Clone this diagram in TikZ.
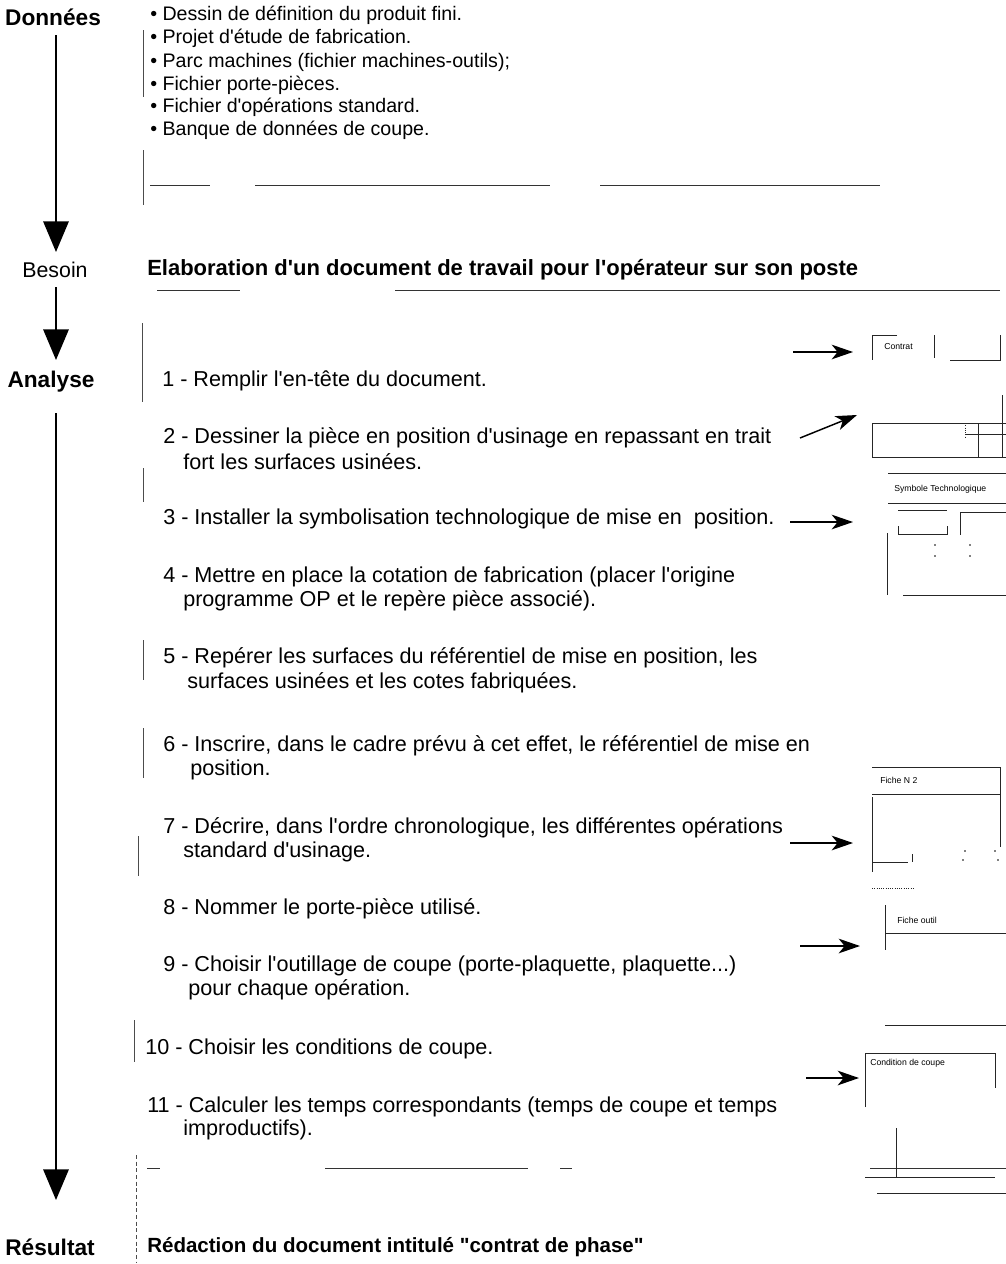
\documentclass[tikz,border=0pt]{standalone}
\usepackage{fontspec}
\setmainfont{Liberation Sans}[Ligatures=TeXOff]
\usetikzlibrary{arrows.meta}
\begin{document}
\begin{tikzpicture}[x=0.75pt,y=-0.75pt,
  txt/.style={anchor=west,inner sep=0pt,font=\fontsize{14.7}{17}\selectfont},
  stp/.style={anchor=west,inner sep=0pt,font=\fontsize{16.2}{19}\selectfont},
  hd/.style={anchor=west,inner sep=0pt,font=\fontsize{16.5}{19}\selectfont\bfseries},
  lbl/.style={inner sep=0pt,font=\fontsize{17}{19}\selectfont\bfseries},
  lblr/.style={inner sep=0pt,font=\fontsize{16}{19}\selectfont},
  mini/.style={anchor=west,inner sep=0pt,font=\fontsize{6.5}{8}\selectfont},
  bigarrow/.style={line width=1.6pt,-{Triangle[length=23pt,width=19pt]}},
  sidearrow/.style={line width=1.1pt,-{Stealth[length=16pt,width=11pt,inset=4.5pt]}},
  sep/.style={line width=0.5pt,black!80},
  bar/.style={line width=0.5pt,black!70},
  form/.style={line width=0.7pt,black!85}]
\useasboundingbox (0,0) rectangle (1006,1264);
\fill[white] (0,0) rectangle (1006,1264);

% ---------- left column ----------
\node[lbl]  (donnees)  at (53,17)   {Données};
\node[lblr] (besoin)   at (55,270)  {Besoin};
\node[lbl]  (analyse)  at (51,382)  {Analyse};
\node[lbl]  (resultat) at (50,1247) {Résultat};
\coordinate (a1s) at (56,35);   \coordinate (a1e) at (56,252);
\coordinate (a2s) at (56,287);  \coordinate (a2e) at (56,360);
\coordinate (a3s) at (56,413);  \coordinate (a3e) at (56,1200);
\draw[bigarrow] (a1s) -- (a1e);
\draw[bigarrow] (a2s) -- (a2e);
\draw[bigarrow] (a3s) -- (a3e);

% ---------- data list ----------
\node[txt] (d1) at (150,15)  {• Dessin de définition du produit fini.};
\node[txt] (d2) at (150,38)  {• Projet d'étude de fabrication.};
\node[txt] (d3) at (150,62)  {• Parc machines (fichier machines-outils);};
\node[txt] (d4) at (150,85)  {• Fichier porte-pièces.};
\node[txt] (d5) at (150,107) {• Fichier d'opérations standard.};
\node[txt] (d6) at (150,130) {• Banque de données de coupe.};

% ---------- headings ----------
\node[hd] (need) at (147,270)  {Elaboration d'un document de travail pour l'opérateur sur son poste};
\node[hd,font=\fontsize{15.4}{19}\selectfont\bfseries] (res) at (147,1247) {Rédaction du document intitulé "contrat de phase"};

% ---------- separators ----------
\draw[sep] (150,185) -- (210,185);
\draw[sep] (255,185) -- (550,185);
\draw[sep] (600,185) -- (880,185);
\draw[sep] (157,290) -- (240,290);
\draw[sep] (395,290) -- (1000,290);
\draw[sep] (147,1168) -- (160,1168);
\draw[sep] (325,1168) -- (528,1168);
\draw[sep] (560,1168) -- (572,1168);
\draw[sep] (870,1168) -- (1006,1168);

% ---------- faint vertical bars ----------
\draw[bar] (143,30) -- (143,97);
\draw[bar] (143,150) -- (143,205);
\draw[bar] (142,323) -- (142,402);
\draw[bar] (143,468) -- (143,502);
\draw[bar] (143,640) -- (143,680);
\draw[bar] (143,728) -- (143,778);
\draw[bar] (138,836) -- (138,876);
\draw[bar] (134,1020) -- (134,1062);
\draw[bar,dash pattern=on 3pt off 2pt] (136,1155) -- (136,1262);

% ---------- analysis steps ----------
\node[stp] (s1)  at (162,381)  {1 - Remplir l'en-tête du document.};
\node[stp] (s2)  at (163,438)  {2 - Dessiner la pièce en position d'usinage en repassant en trait};
\node[stp] (s2b) at (183,462)  {fort les surfaces usinées.};
\node[stp] (s3)  at (163,519)  {3 - Installer la symbolisation technologique de mise en \ position.};
\node[stp] (s4)  at (163,577)  {4 - Mettre en place la cotation de fabrication (placer l'origine};
\node[stp] (s4b) at (183,601)  {programme OP et le repère pièce associé).};
\node[stp] (s5)  at (163,658)  {5 - Repérer les surfaces du référentiel de mise en position, les};
\node[stp] (s5b) at (187,683)  {surfaces usinées et les cotes fabriquées.};
\node[stp] (s6)  at (163,746)  {6 - Inscrire, dans le cadre prévu à cet effet, le référentiel de mise en};
\node[stp] (s6b) at (190,770)  {position.};
\node[stp] (s7)  at (163,828)  {7 - Décrire, dans l'ordre chronologique, les différentes opérations};
\node[stp] (s7b) at (183,852)  {standard d'usinage.};
\node[stp] (s8)  at (163,909)  {8 - Nommer le porte-pièce utilisé.};
\node[stp] (s9)  at (163,966)  {9 - Choisir l'outillage de coupe (porte-plaquette, plaquette...)};
\node[stp] (s9b) at (188,990)  {pour chaque opération.};
\node[stp] (s10) at (145,1049) {10 - Choisir les conditions de coupe.};
\node[stp] (s11) at (147,1107) {11 - Calculer les temps correspondants (temps de coupe et temps};
\node[stp] (s11b) at (183,1130) {improductifs).};

% ---------- side arrows ----------
\coordinate (r1s) at (793,352);  \coordinate (r1e) at (853,352);
\coordinate (r2s) at (800,438);  \coordinate (r2e) at (857,415);
\coordinate (r3s) at (790,522);  \coordinate (r3e) at (853,522);
\coordinate (r7s) at (790,843);  \coordinate (r7e) at (853,843);
\coordinate (r9s) at (800,946);  \coordinate (r9e) at (860,946);
\coordinate (r10s) at (806,1078); \coordinate (r10e) at (859,1078);
\draw[sidearrow] (r1s) -- (r1e);
\draw[sidearrow] (r2s) -- (r2e);
\draw[sidearrow] (r3s) -- (r3e);
\draw[sidearrow] (r7s) -- (r7e);
\draw[sidearrow] (r9s) -- (r9e);
\draw[sidearrow] (r10s) -- (r10e);

% ---------- form thumbnails (clipped at the page edge) ----------
\begin{scope}
\clip (0,0) rectangle (1006,1264);
% contrat
\draw[form] (897,335) -- (872,335) -- (872,360);
\node[mini] (fcontrat) at (884,347) {Contrat};
\draw[form] (934,335) -- (934,358);
\draw[form] (950,360) -- (1000,360) -- (1000,335);
% drawing frame
\draw[form] (1002,395) -- (1002,457);
\draw[form] (872,423) -- (1006,423);
\draw[form] (872,423) -- (872,457) -- (1006,457);
\draw[form] (978,423) -- (978,457);
\draw[form] (965,434) -- (1006,434);
\draw[form,densely dotted] (965,423) -- (965,437);
% symbolisation
\draw[form] (888,473) -- (1006,473);
\node[mini] (fsymb) at (894,489) {Symbole Technologique};
\draw[form] (888,503) -- (1006,503);
\draw[form] (898,510) -- (947,510);
\draw[form] (898,526) -- (898,534) -- (947,534) -- (947,526);
\draw[form] (1006,512) -- (960,512) -- (960,535);
\draw[form] (887,533) -- (887,595);
\draw[form] (903,595) -- (1006,595);
\fill (935,545) circle (0.8) (935,556) circle (0.8) (970,545) circle (0.8) (970,556) circle (0.8);
% fiche N 2
\draw[form] (872,767) -- (1000,767) -- (1000,847);
\node[mini] (ffiche) at (880,780) {Fiche N 2};
\draw[form] (872,794) -- (1000,794);
\draw[form] (872,797) -- (872,872);
\draw[form] (872,862) -- (908,862);
\draw[form] (912,854) -- (912,862);
\fill (965,851) circle (0.8) (995,851) circle (0.8) (963,860) circle (0.8) (998,860) circle (0.8);
\draw[form,densely dotted] (872,888) -- (915,888);
% fiche outil
\draw[form] (885,905) -- (885,950);
\node[mini] (foutil) at (897,920) {Fiche outil};
\draw[form] (885,933) -- (1006,933);
\draw[form] (885,1025) -- (1006,1025);
% conditions de coupe
\draw[form] (865,1107) -- (865,1053) -- (995,1053) -- (995,1088);
\node[mini] (fcond) at (870,1063) {Condition de coupe};
\draw[form] (896,1128) -- (896,1177);
\draw[form] (865,1177) -- (995,1177);
\draw[form] (877,1193) -- (1006,1193);
\end{scope}
\end{tikzpicture}
\end{document}
